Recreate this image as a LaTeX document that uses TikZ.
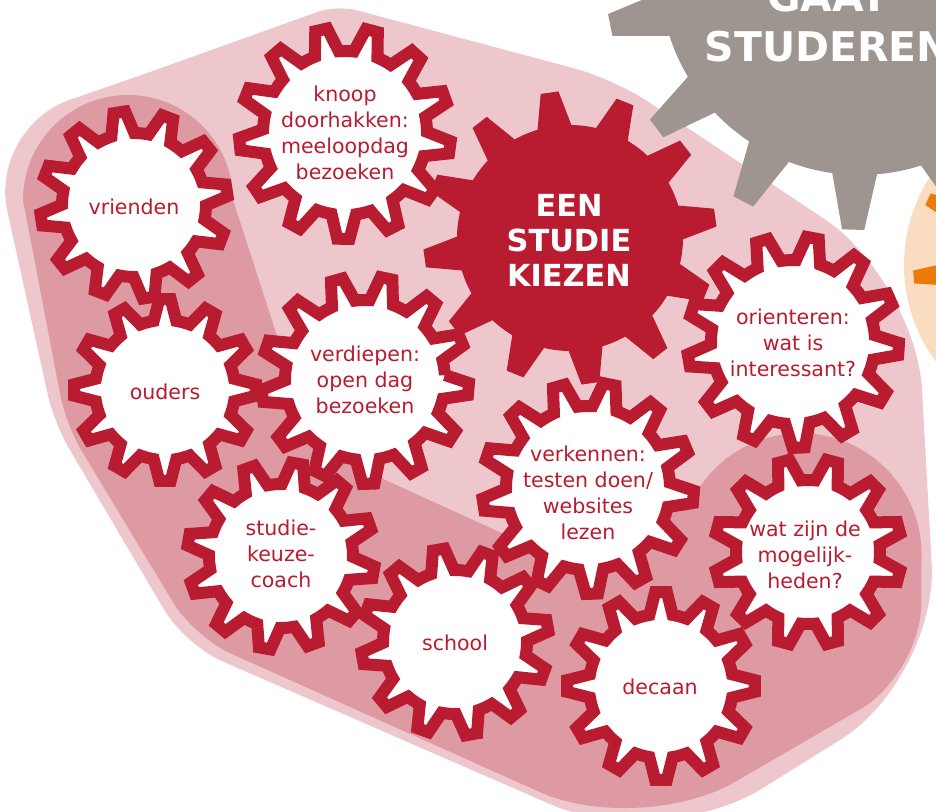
\documentclass[tikz,border=0pt]{standalone}
\usepackage{fontspec}
\setmainfont{DejaVu Sans}
\usepackage{tikz}
\definecolor{kiesrood}{RGB}{185,28,48}
\definecolor{lichtroze}{RGB}{237,199,204}
\definecolor{donkerroze}{RGB}{221,154,163}
\definecolor{grijs}{RGB}{158,149,145}
\definecolor{perzik}{RGB}{250,220,192}
\definecolor{oranje}{RGB}{236,122,8}
% #1 centre, #2 teeth, #3 root radius, #4 tip radius, #5 first tooth angle,
% #6 base and #7 tip half width (part of the pitch), #8 style
\newcommand{\gear}[8]{%
  \pgfmathsetmacro{\gp}{360/#2}%
  \pgfmathsetmacro{\gb}{#6*\gp}%
  \pgfmathsetmacro{\gt}{#7*\gp}%
  \path[#8,shift={(#1)}] (#5-\gb:#3)
    \foreach \k [evaluate=\k as \a using #5+(\k-1)*\gp] in {1,...,#2}
      { -- (\a-\gt:#4) -- (\a+\gt:#4) -- (\a+\gb:#3)
        arc[start angle=\a+\gb, end angle=\a+\gp-\gb, radius=#3] } -- cycle;%
}
\tikzset{
  wiel/.style={fill=white, draw=kiesrood, line width=0.24cm},
  lbl/.style={text=kiesrood, align=center, font=\fontsize{11.7}{14.9}\selectfont},
  kop/.style={text=white, align=center, font=\bfseries\fontsize{17.3}{19.9}\selectfont},
}
\begin{document}
\begin{tikzpicture}[x=0.02cm, y=-0.02cm]
  \useasboundingbox (0,0) rectangle (936,811);
  \clip (0,0) rectangle (936,811);
  \fill[lichtroze] (150,72) [rounded corners=0.4cm] -- (337,5) [rounded corners=0.8cm] -- (614,79)
    [rounded corners=2.2cm] -- (916,280) [rounded corners=2.3cm] -- (938,679)
    [rounded corners=2.4cm] -- (660,852) [rounded corners=0.8cm] -- (185,645)
    [rounded corners=0.6cm] -- (54,423) [rounded corners=1.7cm] -- (-11,128) [sharp corners] -- cycle;
  \fill[donkerroze] (23,200) arc[start angle=180, end angle=360, radius=105]
    -- (313,447) -- (563,561) -- (695,495) arc[start angle=209.3, end angle=360, radius=121]
    [rounded corners=1.4cm] -- (921,674) [rounded corners=2.2cm] -- (640,837)
    [rounded corners=0.8cm] -- (194,637) [rounded corners=0.6cm] -- (66,425) [sharp corners] -- cycle;
  \begin{scope}[blend mode=multiply]
    \fill[perzik] (1066,265) circle[radius=162];
  \end{scope}
  \gear{1066,265}{12}{115}{153}{25.5}{0.2}{0.08}{fill=oranje}
  \gear{860,-25}{14}{200}{255}{14.4}{0.25}{0.097}{fill=grijs}
  \node[kop, font=\bfseries\fontsize{23.3}{28.5}\selectfont] (gaat) at (828,22) {GAAT\\STUDEREN};
  \gear{570,238}{12}{113}{147}{22}{0.29}{0.117}{fill=kiesrood}
  \node[kop] (kiezen) at (569,240) {EEN\\STUDIE\\KIEZEN};
  \gear{134,205}{12}{72}{94}{21}{0.31}{0.12}{wiel}
  \node[lbl] (vrienden) at (134,207) {vrienden};
  \gear{345,133}{13}{82}{106}{7.8}{0.31}{0.12}{wiel}
  \node[lbl] (knoop) at (345,133) {knoop\\doorhakken:\\meeloopdag\\bezoeken};
  \gear{165,390}{12}{70}{91}{0}{0.31}{0.12}{wiel}
  \node[lbl] (ouders) at (165,392) {ouders};
  \gear{365,380}{13}{80}{104}{5}{0.31}{0.12}{wiel}
  \node[lbl] (verdiepen) at (365,380) {verdiepen:\\open dag\\bezoeken};
  \gear{281,556}{12}{72}{94}{10}{0.31}{0.12}{wiel}
  \node[lbl] (coach) at (281,554) {studie-\\keuze-\\coach};
  \gear{455,642}{12}{72}{94}{20}{0.31}{0.12}{wiel}
  \node[lbl] (school) at (455,643) {school};
  \gear{661,686}{12}{72}{94}{0}{0.31}{0.12}{wiel}
  \node[lbl] (decaan) at (660,687) {decaan};
  \gear{588,488}{13}{82}{106}{4.8}{0.31}{0.12}{wiel}
  \node[lbl] (verkennen) at (588,493) {verkennen:\\testen doen/\\websites\\lezen};
  \gear{793,342}{13}{82}{106}{3.8}{0.31}{0.12}{wiel}
  \node[lbl] (orienteren) at (793,343) {orienteren:\\wat is\\interessant?};
  \gear{808,552}{12}{72}{94}{15}{0.31}{0.12}{wiel}
  \node[lbl] (mogelijk) at (805,555) {wat zijn de\\mogelijk-\\heden?};
\end{tikzpicture}
\end{document}
